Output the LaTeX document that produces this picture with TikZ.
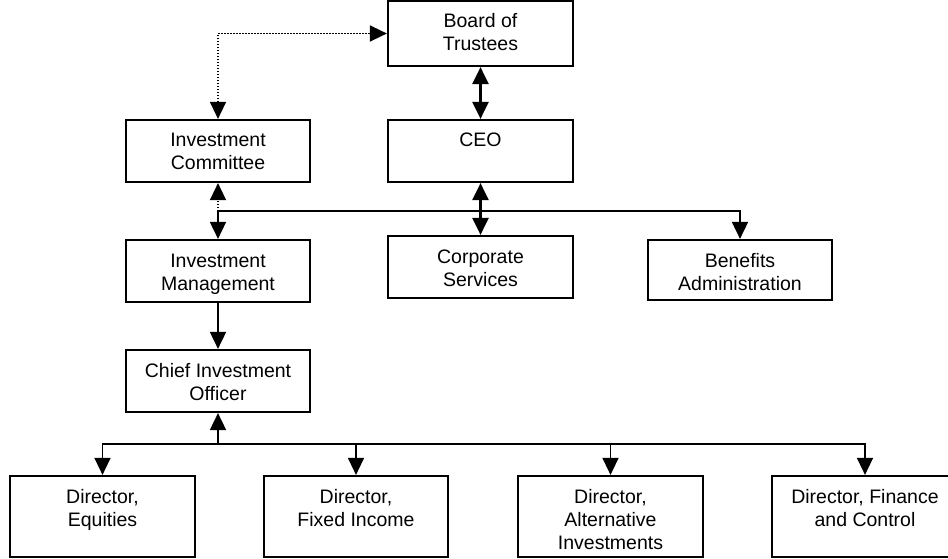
\documentclass[tikz,border=0pt]{standalone}
\usepackage{fontspec}
\setmainfont{Liberation Sans}
\usetikzlibrary{arrows.meta}
\newcommand{\orgtext}[3]{\parbox[t][#2][t]{#1}{\centering\rule{0pt}{27pt}#3}}
\tikzset{
  orgbox/.style={draw, line width=2.2pt, inner sep=0pt, font=\fontsize{19.5}{23}\selectfont},
  conn/.style={line width=1.8pt},
  thin conn/.style={line width=1.4pt},
  heavy/.style={line width=2.6pt},
  dotline/.style={line width=1.5pt, dash pattern=on 1.5pt off 1.5pt},
  >={Triangle[length=17pt,width=16pt]}
}
\begin{document}
\begin{tikzpicture}[x=1pt,y=1pt]
\useasboundingbox (0,0) rectangle (948,-559);
\clip (0,0) rectangle (948,-559);
% boxes
\node[orgbox] (board) at (480.5,-33.5) {\orgtext{185pt}{65pt}{Board of\\Trustees}};
\node[orgbox] (committee) at (218,-151) {\orgtext{184pt}{62pt}{Investment\\Committee}};
\node[orgbox] (ceo) at (480.5,-151) {\orgtext{185pt}{62pt}{CEO}};
\node[orgbox] (im) at (218,-271) {\orgtext{184pt}{62pt}{Investment\\Management}};
\node[orgbox] (cs) at (480.5,-267) {\orgtext{185pt}{62pt}{Corporate\\Services}};
\node[orgbox] (ben) at (740,-270) {\orgtext{184pt}{60pt}{Benefits\\Administration}};
\node[orgbox] (cio) at (218,-381) {\orgtext{184pt}{62pt}{Chief Investment\\Officer}};
\node[orgbox] (deq) at (102.5,-516.5) {\orgtext{185pt}{81pt}{Director,\\Equities}};
\node[orgbox] (dfi) at (356,-516.5) {\orgtext{184pt}{81pt}{Director,\\Fixed Income}};
\node[orgbox] (dalt) at (610.5,-516.5) {\orgtext{185pt}{81pt}{Director,\\Alternative\\Investments}};
\node[orgbox] (dfin) at (865,-516.5) {\orgtext{186pt}{81pt}{Director, Finance\\and Control}};
% connectors
\draw[dotline,<->] (committee.north) |- (board.west);
\draw[heavy,<->] (board.south) -- (ceo.north);
\coordinate (busA) at (218,-211);
\coordinate (busB) at (218,-444);
\draw[heavy,<->] (ceo.south) -- (cs.north);
\draw[dotline,->] (busA) -- (committee.south);
\draw[conn,->] (busA) -- (im.north);
\draw[conn,->] (busA) -| (ben.north);
\draw[conn,->] (im.south) -- (cio.north);
\draw[conn,->] (busB) -- (cio.south);
\draw[thin conn,->] (busB) -| (deq.north);
\draw[thin conn,->] (busB) -| (dfi.north);
\draw[thin conn,->] (busB) -| (dalt.north);
\draw[thin conn,->] (busB) -| (dfin.north);
\end{tikzpicture}
\end{document}
